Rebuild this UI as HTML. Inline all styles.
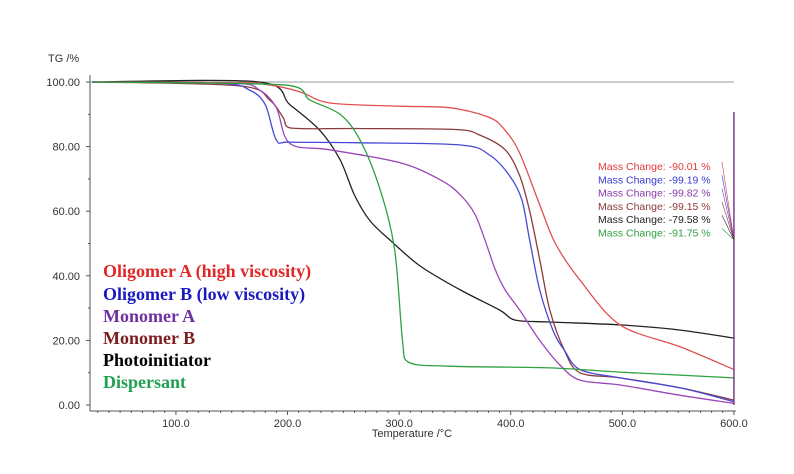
<!DOCTYPE html>
<html><head><meta charset="utf-8"><style>
body{margin:0;background:#fff;width:794px;height:474px;overflow:hidden}
svg{display:block}
text{font-family:"Liberation Sans",Arial,sans-serif}
.leg{font-family:"Liberation Serif",serif;font-weight:bold;font-size:18px}
</style></head><body>
<svg id="chart" width="794" height="474" viewBox="0 0 794 474">
<g id="axes"></g>
<g id="series"></g>
<text x="48" y="62" font-size="11" fill="#333">TG /%</text>
<text x="412" y="437" font-size="11" fill="#333" text-anchor="middle">Temperature /°C</text>
<g>
<text class="leg" x="103" y="277" fill="#e02828">Oligomer A (high viscosity)</text>
<text class="leg" x="103" y="300" fill="#1a1ac0">Oligomer B (low viscosity)</text>
<text class="leg" x="103" y="322" fill="#7030a0">Monomer A</text>
<text class="leg" x="103" y="344" fill="#7b1e1e">Monomer B</text>
<text class="leg" x="103" y="366" fill="#000">Photoinitiator</text>
<text class="leg" x="103" y="388" fill="#20a050">Dispersant</text>
</g>
<g id="ann"></g>
</svg>
<script>
const xTicks=[100,200,300,400,500,600];
const yTicks=[0,20,40,60,80,100];
const names=["oligomer-a","oligomer-b","monomer-a","monomer-b","photoinitiator","dispersant"];
const colors=["#e05050","#4848d8","#9a48b8","#8b3a3a","#222222","#30a040"];
const massChanges=["-90.01","-99.19","-99.82","-99.15","-79.58","-91.75"];
const annColors=["#e03a3a","#3a3ad0","#8a3aa8","#8b3a3a","#222","#30a040"];
const temps0=[25,150,180,211,238,301,346,381,395,408,426,440,462,498,552,600];
const mass0=[100,99.8,99.3,97,93.5,92.5,92,89,85,78,62,50,38.7,24.8,18,11];
const temps1=[25,140,166,180,190,202,260,355,381,399,410,417,426,438,448,462,498,552,600];
const mass1=[100,99.6,97.5,93,82,81.4,81.2,80.5,77.4,71,63.5,51,35.6,23,17,11,8.4,5.3,1];
const temps2=[25,150,175,190,202,238,301,337,355,368,377,386,395,408,426,444,462,498,552,600];
const mass2=[100,99.7,97.5,92,81,79,75,69.7,65,59,51,42,35.6,29.4,20,12.4,7.7,6.2,3,0.5];
const temps3=[25,157,184,196,202,260,350,372,395,408,417,426,435,448,462,498,552,600];
const mass3=[100,98.8,94.4,89,85.8,85.6,85.3,83.6,79,71,60,45,29.4,17,10,8.4,5.3,1.5];
const temps4=[25,175,202,229,247,260,274,292,319,355,390,404,435,498,552,600];
const mass4=[100,100,93,85,76,65,57,51,43,35.6,29.4,26.3,25.7,24.8,23.2,20.7];
const temps5=[25,200,220,247,265,283,296,303,308,345,435,498,600];
const mass5=[100,99,94.4,90,82,66.6,48,20,13.3,12,11.5,10.2,8.4];
const temps=[temps0,temps1,temps2,temps3,temps4,temps5];
const masses=[mass0,mass1,mass2,mass3,mass4,mass5];
const NS="http://www.w3.org/2000/svg";
const X=t=>90+(t-23)*1.116;
const Y=m=>405-m*3.23;
function mk(tag,attrs,parent){const e=document.createElementNS(NS,tag);for(const k in attrs)e.setAttribute(k,attrs[k]);parent.appendChild(e);return e;}
function smooth(pts){let d='M'+pts[0][0].toFixed(1)+','+pts[0][1].toFixed(1);
for(let i=0;i<pts.length-1;i++){const p0=pts[i-1]||pts[i],p1=pts[i],p2=pts[i+1],p3=pts[i+2]||p2;
const k=0.16;
const c1x=p1[0]+(p2[0]-p0[0])*k,c1y=p1[1]+(p2[1]-p0[1])*k;
const c2x=p2[0]-(p3[0]-p1[0])*k,c2y=p2[1]-(p3[1]-p1[1])*k;
d+=' C'+Math.min(Math.max(c1x,p1[0]),p2[0]).toFixed(1)+','+c1y.toFixed(1)+' '+Math.min(Math.max(c2x,p1[0]),p2[0]).toFixed(1)+','+c2y.toFixed(1)+' '+p2[0].toFixed(1)+','+p2[1].toFixed(1);}
return d;}
const ax=document.getElementById('axes');
let e=mk('line',{x1:90,y1:75,x2:90,y2:411,stroke:'#555','stroke-width':1},ax);


e=mk('line',{x1:90,y1:411,x2:736,y2:411,stroke:'#555','stroke-width':1},ax);


e=mk('line',{x1:90,y1:Y(100),x2:X(600),y2:Y(100),stroke:'#999','stroke-width':1},ax);


for(let t=30;t<=600;t+=10){mk('line',{x1:X(t),y1:411,x2:X(t),y2:t%100===0?415:413,stroke:'#555'},ax);}
xTicks.forEach(t=>{const tx=mk('text',{x:X(t),y:427,'font-size':11,fill:'#333','text-anchor':'middle'},ax);tx.textContent=t.toFixed(1);

});
yTicks.forEach(m=>{mk('line',{x1:86,y1:Y(m),x2:90,y2:Y(m),stroke:'#555'},ax);
const tx=mk('text',{x:80,y:Y(m)+4,'font-size':11,fill:'#333','text-anchor':'end'},ax);tx.textContent=m.toFixed(2);

});
for(let m=10;m<100;m+=20)mk('line',{x1:88,y1:Y(m),x2:90,y2:Y(m),stroke:'#555'},ax);
const sg=document.getElementById('series');
const order=[4,3,2,1,0,5];
order.forEach(i=>{const pts=temps[i].map((t,j)=>[X(t),Y(masses[i][j])]);
const p=mk('path',{d:smooth(pts),fill:'none',stroke:colors[i],'stroke-width':1.3,'stroke-linejoin':'round'},sg);

});
e=mk('line',{x1:X(600),y1:112,x2:X(600),y2:405,stroke:'#7a3a8a','stroke-width':1.5},sg);


const an=document.getElementById('ann');
massChanges.forEach((v,i)=>{const y=170+i*13.3;
const tx=mk('text',{x:598,y:y,'font-size':10.5,fill:annColors[i]},an);tx.textContent='Mass Change: '+v+' %';


mk('line',{x1:722,y1:y-8,x2:734,y2:240,stroke:annColors[i],'stroke-width':0.6},an);});
</script>
</body></html>
